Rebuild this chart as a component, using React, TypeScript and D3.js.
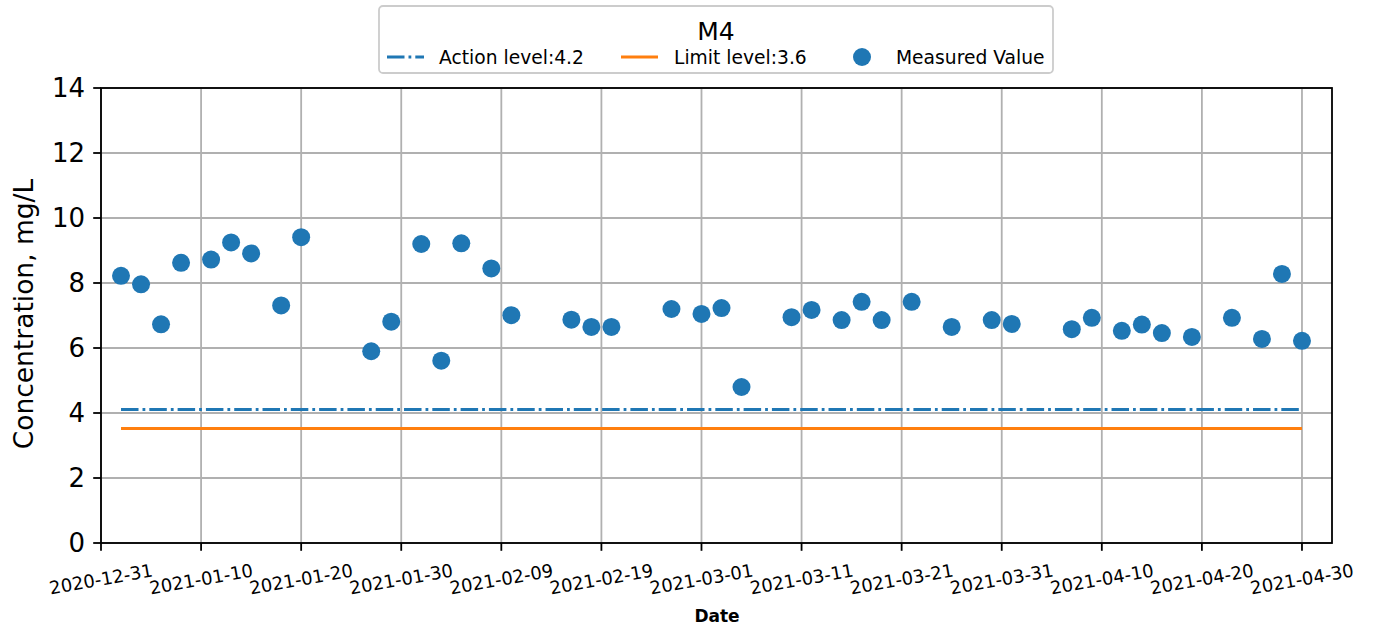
import React from "react";
import * as d3 from "d3";

const dates: string[] = [
  "2021-01-02", "2021-01-04", "2021-01-06", "2021-01-08", "2021-01-11", "2021-01-13",
  "2021-01-15", "2021-01-18", "2021-01-20", "2021-01-27", "2021-01-29", "2021-02-01",
  "2021-02-03", "2021-02-05", "2021-02-08", "2021-02-10", "2021-02-16", "2021-02-18",
  "2021-02-20", "2021-02-26", "2021-03-01", "2021-03-03", "2021-03-05", "2021-03-10",
  "2021-03-12", "2021-03-15", "2021-03-17", "2021-03-19", "2021-03-22", "2021-03-26",
  "2021-03-30", "2021-04-01", "2021-04-07", "2021-04-09", "2021-04-12", "2021-04-14",
  "2021-04-16", "2021-04-19", "2021-04-23", "2021-04-26", "2021-04-28", "2021-04-30",
];
const values: number[] = [
  8.22, 7.96, 6.73, 8.62, 8.72, 9.25,
  8.91, 7.31, 9.41, 5.9, 6.81, 9.2,
  5.61, 9.22, 8.45, 7.01, 6.87, 6.65,
  6.65, 7.2, 7.05, 7.23, 4.8, 6.95,
  7.17, 6.86, 7.42, 6.86, 7.42, 6.65,
  6.86, 6.74, 6.58, 6.93, 6.53, 6.72,
  6.46, 6.34, 6.93, 6.28, 8.28, 6.22,
];
const xTickLabels: string[] = [
  "2020-12-31", "2021-01-10", "2021-01-20", "2021-01-30", "2021-02-09", "2021-02-19",
  "2021-03-01", "2021-03-11", "2021-03-21", "2021-03-31", "2021-04-10", "2021-04-20", "2021-04-30",
];
const yTicks: number[] = [0, 2, 4, 6, 8, 10, 12, 14];
const xDomain: string[] = ["2020-12-31", "2021-05-03"];
const yDomain: number[] = [0, 14];
const actionLevel = 4.11;
const limitLevel = 3.52;
const legendTitle = "M4";
const legendLabels: string[] = ["Action level:4.2", "Limit level:3.6", "Measured Value"];
const xLabel = "Date";
const yLabel = "Concentration, mg/L";

const BLUE = "#1f77b4";
const ORANGE = "#ff7f0e";
const FONT = "DejaVu Sans";

export default function App() {
  const W = 1375, H = 631;
  const left = 101, right = 1332, top = 88, bottom = 543;
  const parse = d3.utcParse("%Y-%m-%d");
  const x = d3.scaleUtc().domain(xDomain.map((d) => parse(d)!)).range([left, right]);
  const y = d3.scaleLinear().domain(yDomain).range([bottom, top]);
  const pts = dates.map((d, i) => ({ d: parse(d)!, v: values[i] }));
  const first = pts[0].d, last = pts[pts.length - 1].d;
  const xt = xTickLabels.map((s) => ({ s, d: parse(s)! }));

  return (
    <svg width={W} height={H} style={{ position: "absolute", left: 0, top: 0 }} fontFamily={FONT}>
      <rect width={W} height={H} fill="#fff" />
      {/* grid */}
      {xt.map((t) => (
        <line key={"gx" + t.s} x1={x(t.d)} x2={x(t.d)} y1={top} y2={bottom} stroke="#b0b0b0" strokeWidth={1.8} />
      ))}
      {yTicks.map((v) => (
        <line key={"gy" + v} x1={left} x2={right} y1={y(v)} y2={y(v)} stroke="#b0b0b0" strokeWidth={1.8} />
      ))}
      {/* level lines */}
      <line x1={x(first)} x2={x(last)} y1={y(actionLevel)} y2={y(actionLevel)} stroke={BLUE} strokeWidth={3}
        strokeDasharray="17.5,4,2.8,4" />
      <line x1={x(first)} x2={x(last)} y1={y(limitLevel)} y2={y(limitLevel)} stroke={ORANGE} strokeWidth={3} />
      {/* points */}
      {pts.map((p, i) => (
        <circle key={i} cx={x(p.d)} cy={y(p.v)} r={9} fill={BLUE} />
      ))}
      {/* axes frame */}
      <rect x={left} y={top} width={right - left} height={bottom - top} fill="none" stroke="#000" strokeWidth={1.8} />
      {/* y ticks */}
      {yTicks.map((v) => (
        <g key={"ty" + v}>
          <line x1={left - 7.8} x2={left} y1={y(v)} y2={y(v)} stroke="#000" strokeWidth={1.8} />
          <text x={85} y={y(v)} dy="0.36em" textAnchor="end" fontSize={26} fill="#000">{v}</text>
        </g>
      ))}
      {/* x ticks */}
      {xt.map((t) => (
        <g key={"tx" + t.s}>
          <line x1={x(t.d)} x2={x(t.d)} y1={bottom} y2={bottom + 7.8} stroke="#000" strokeWidth={1.8} />
          <text transform={`translate(${x(t.d)},579) rotate(-10)`} textAnchor="middle" dy="0.36em" fontSize={18} fill="#000">
            {t.s}
          </text>
        </g>
      ))}
      {/* axis labels */}
      <text x={717} y={622} textAnchor="middle" fontSize={17} fontWeight="bold" fill="#000">{xLabel}</text>
      <text transform="translate(33,314) rotate(-90)" textAnchor="middle" fontSize={26.5} fill="#000">{yLabel}</text>
      {/* legend */}
      <rect x={379} y={6} width={674} height={67} rx={4} fill="#fff" fillOpacity={0.8} stroke="#cccccc" strokeWidth={1.8} />
      <text x={716} y={40} textAnchor="middle" fontSize={25} fill="#000">{legendTitle}</text>
      <line x1={387} x2={424} y1={57} y2={57} stroke={BLUE} strokeWidth={3} strokeDasharray="17.5,4,2.8,4" />
      <text x={439} y={64} fontSize={18.7} fill="#000">{legendLabels[0]}</text>
      <line x1={621} x2={658} y1={57} y2={57} stroke={ORANGE} strokeWidth={3} />
      <text x={674} y={64} fontSize={18.7} fill="#000">{legendLabels[1]}</text>
      <circle cx={862} cy={57} r={9} fill={BLUE} />
      <text x={896} y={64} fontSize={18.7} fill="#000">{legendLabels[2]}</text>
    </svg>
  );
}
